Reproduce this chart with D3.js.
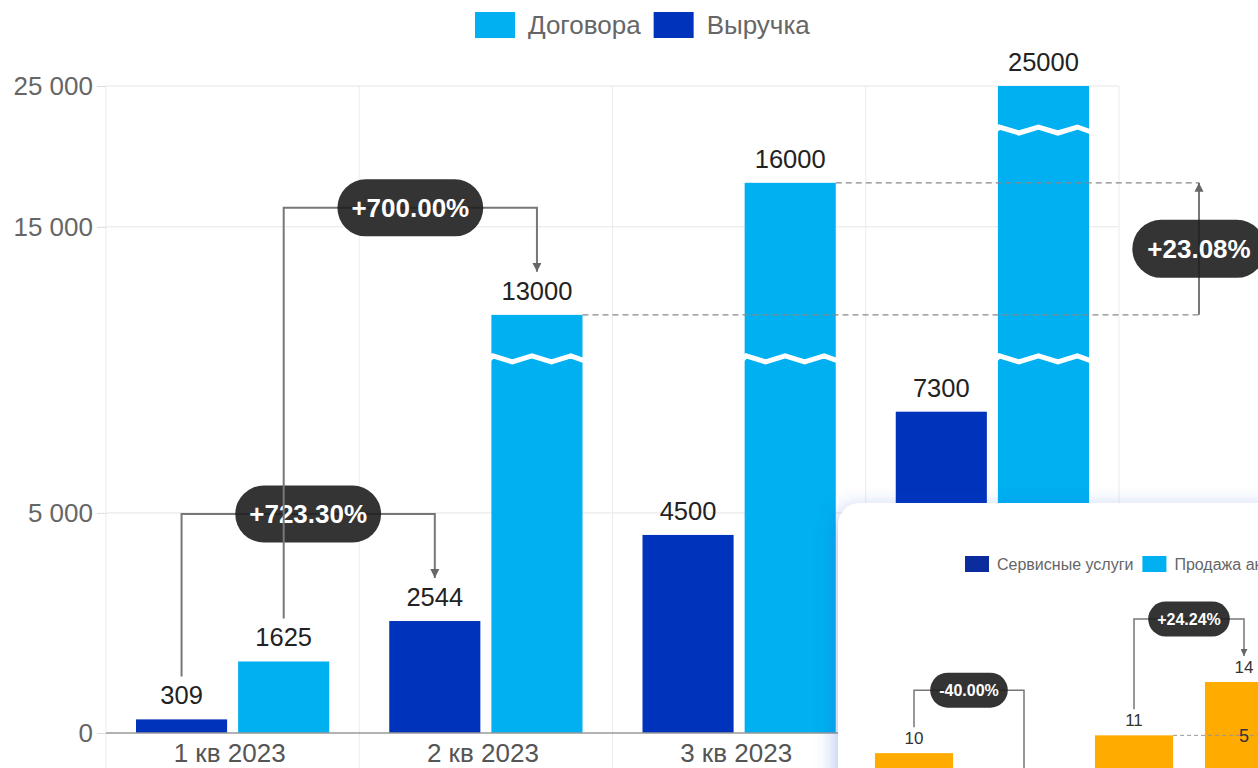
<!DOCTYPE html>
<html><head><meta charset="utf-8">
<script src="https://cdn.jsdelivr.net/npm/d3@7"></script>
<style>
html,body{margin:0;padding:0;background:#fff;overflow:hidden}
svg{display:block;font-family:"Liberation Sans",Arial,sans-serif}
</style>
</head><body>
<svg id="c" width="1258" height="768"></svg>
<script>
// ---------- main chart data ----------
const categories = ["1 кв 2023", "2 кв 2023", "3 кв 2023", "4 кв 2023"];
const seriesNames = ["Выручка", "Договора"];
const legendOrder = ["Договора", "Выручка"];
const revenue = [309, 2544, 4500, 7300];
const contracts = [1625, 13000, 16000, 25000];
const yTickValues = [0, 5000, 15000, 25000];
const axisBreaks = [[8500, 12000], [17200, 24000]];

// ---------- inset chart data ----------
const insetSeries = ["Сервисные услуги", "Продажа акций"];
const insetBars = ["b1", "b2", "b3", "b4"];
const insetValues = [10, 6, 11, 14];
const insetPercent = ["-40.00%", "+24.24%"];
const insetInnerLabel = ["5"];

const colors = {"Выручка": "#0033bb", "Договора": "#00b0f0"};
const insetColors = {"Сервисные услуги": "#0a2c9c", "Продажа акций": "#00b0f0"};

const svg = d3.select("#c");
const W = 1258, H = 768;
const L = 106, R = 1119, T = 86, B = 733;

const defs = svg.append("defs");
defs.append("marker").attr("id", "arr").attr("viewBox", "0 0 10 10")
  .attr("refX", 10).attr("refY", 5).attr("markerWidth", 9).attr("markerHeight", 10)
  .attr("markerUnits", "userSpaceOnUse").attr("orient", "auto")
  .append("path").attr("d", "M0,0L10,5L0,10Z").attr("fill", "#666");
defs.append("marker").attr("id", "arrS").attr("viewBox", "0 0 10 10")
  .attr("refX", 10).attr("refY", 5).attr("markerWidth", 7).attr("markerHeight", 7)
  .attr("markerUnits", "userSpaceOnUse").attr("orient", "auto")
  .append("path").attr("d", "M0,0L10,5L0,10Z").attr("fill", "#666");
const f = defs.append("filter").attr("id", "sh").attr("x", "-20%").attr("y", "-20%").attr("width", "140%").attr("height", "140%");
f.append("feDropShadow").attr("dx", -3).attr("dy", 5).attr("stdDeviation", 10)
  .attr("flood-color", "#2a5bd7").attr("flood-opacity", 0.35);

// ---------- broken y scale ----------
const domainPts = [0];
axisBreaks.forEach(([a, b]) => domainPts.push(a, b));
domainPts.push(yTickValues[yTickValues.length - 1]);
let units = 0;
for (let i = 0; i < domainPts.length; i += 2) units += domainPts[i + 1] - domainPts[i];
const k = (B - T) / units;
const rangePts = [B];
let cur = B;
for (let i = 1; i < domainPts.length; i++) {
  if (i % 2 === 1) cur -= (domainPts[i] - domainPts[i - 1]) * k;
  rangePts.push(cur);
}
const y = d3.scaleLinear().domain(domainPts).range(rangePts);

const x0 = d3.scaleBand().domain(categories).range([L, R]);
const x1 = d3.scaleBand().domain(seriesNames).range([30, x0.bandwidth() - 30]).paddingInner(0.108);

// ---------- grid ----------
const grid = svg.append("g");
grid.selectAll("line.h").data(yTickValues.filter(d => d > 0)).join("line")
  .attr("x1", L).attr("x2", R).attr("y1", d => y(d)).attr("y2", d => y(d))
  .attr("stroke", "#e6e6e6").attr("stroke-width", 1);
grid.selectAll("line.v").data(categories.map(c => x0(c)).concat([R])).join("line")
  .attr("x1", d => d).attr("x2", d => d).attr("y1", T).attr("y2", H)
  .attr("stroke", "#ebebeb").attr("stroke-width", 1);

// y axis
const yAxis = svg.append("g").attr("transform", `translate(${L},0)`)
  .call(d3.axisLeft(y).tickValues(yTickValues).tickSize(9).tickPadding(4)
    .tickFormat(d => d3.format(",")(d).replace(/,/g, " ")));
yAxis.select(".domain").remove();
yAxis.selectAll("line").attr("stroke", "#dcdcdc");
yAxis.selectAll("text").attr("font-size", 26).attr("fill", "#666")
  .attr("font-family", "'Liberation Sans',Arial,sans-serif");

// x labels
svg.append("g").selectAll("text").data(categories).join("text")
  .attr("x", d => x0(d) + x0.bandwidth() / 2 - 3).attr("y", 762)
  .attr("text-anchor", "middle").attr("font-size", 26).attr("fill", "#555").text(d => d);

// ---------- bars ----------
const bars = categories.flatMap((c, i) => [
  {c, i, s: "Выручка", v: revenue[i]},
  {c, i, s: "Договора", v: contracts[i]}
]);
const bx = d => x0(d.c) + x1(d.s);
svg.append("g").selectAll("rect").data(bars).join("rect")
  .attr("x", bx).attr("width", x1.bandwidth())
  .attr("y", d => y(d.v)).attr("height", d => y(0) - y(d.v))
  .attr("fill", d => colors[d.s]);

// break marks
const zig = (xl, w, yb) => {
  const pts = [];
  for (let j = -1; j <= 6; j++) {
    const xx = xl + 1.5 + 19.5 * j;
    pts.push([Math.max(xl - 5, Math.min(xl + w + 5, xx)), yb + (j % 2 === 0 ? -3 : 3)]);
  }
  return d3.line()(pts);
};
const breakMarks = [];
bars.forEach(d => axisBreaks.forEach(([a, b]) => { if (d.v > b) breakMarks.push({d, a}); }));
svg.append("g").selectAll("path").data(breakMarks).join("path")
  .attr("d", m => zig(bx(m.d), x1.bandwidth(), y(m.a)))
  .attr("fill", "none").attr("stroke", "#fff").attr("stroke-width", 5).attr("stroke-linejoin", "miter");

// axis baseline
svg.append("line").attr("x1", L).attr("x2", R).attr("y1", y(0)).attr("y2", y(0))
  .attr("stroke", "#999").attr("stroke-width", 1.5);

// value labels
svg.append("g").selectAll("text").data(bars).join("text")
  .attr("x", d => bx(d) + x1.bandwidth() / 2).attr("y", d => y(d.v) - 15)
  .attr("text-anchor", "middle").attr("font-size", 25.5).attr("fill", "#222").text(d => d.v);

// ---------- annotations ----------
const pct = (a, b) => (b >= a ? "+" : "") + ((b / a - 1) * 100).toFixed(2) + "%";
const cx = (i, s) => x0(categories[i]) + x1(s) + x1.bandwidth() / 2;
const ann = svg.append("g");
function pill(g, xc, yc, text, fs, h, pad) {
  const gg = g.append("g");
  const r = gg.append("rect").attr("fill", "rgba(30,30,30,0.9)");
  const t = gg.append("text").attr("x", xc).attr("y", yc).attr("dy", "0.36em")
    .attr("text-anchor", "middle").attr("font-size", fs).attr("font-weight", "bold")
    .attr("fill", "#fff").text(text);
  const w = t.node().getComputedTextLength() + 2 * pad;
  r.attr("x", xc - w / 2).attr("y", yc - h / 2).attr("width", w).attr("height", h).attr("rx", h / 2);
}
function bracket(i1, s1, v1, i2, s2, v2) {
  const xa = cx(i1, s1), xb = cx(i2, s2);
  const ta = y(v1) - 43, tb = y(v2) - 43;
  const lvl = Math.min(ta, tb) - 64;
  ann.append("path").attr("d", `M${xa},${ta}V${lvl}H${xb}V${tb}`)
    .attr("fill", "none").attr("stroke", "#777").attr("stroke-width", 2).attr("marker-end", "url(#arr)");
  pill(ann, (xa + xb) / 2, lvl, pct(v1, v2), 26, 57, 14);
}
bracket(0, "Выручка", revenue[0], 1, "Выручка", revenue[1]);
bracket(0, "Договора", contracts[0], 1, "Договора", contracts[1]);

// vertical comparison 2 кв -> 3 кв contracts
const ax = R + 80;
const ya = y(contracts[1]), yb2 = y(contracts[2]);
[[1, ya], [2, yb2]].forEach(([i, yy]) => {
  ann.append("line").attr("x1", x0(categories[i]) + x1("Договора") + x1.bandwidth()).attr("x2", ax)
    .attr("y1", yy).attr("y2", yy).attr("stroke", "#888").attr("stroke-width", 1.3).attr("stroke-dasharray", "6,4");
});
ann.append("line").attr("x1", ax).attr("x2", ax).attr("y1", ya).attr("y2", yb2)
  .attr("stroke", "#777").attr("stroke-width", 2).attr("marker-end", "url(#arr)");
pill(ann, ax, (ya + yb2) / 2, pct(contracts[1], contracts[2]), 26, 58, 15);

// ---------- legend ----------
const lg = svg.append("g");
let lx = 475;
legendOrder.forEach(s => {
  lg.append("rect").attr("x", lx).attr("y", 12).attr("width", 40).attr("height", 26).attr("fill", colors[s]);
  const t = lg.append("text").attr("x", lx + 53).attr("y", 25).attr("dy", "0.36em")
    .attr("font-size", 26).attr("fill", "#666").text(s);
  lx += 53 + t.node().getComputedTextLength() + 13;
});

// ---------- inset card ----------
const card = svg.append("g");
card.append("rect").attr("x", 838).attr("y", 503).attr("width", 520).attr("height", 400)
  .attr("rx", 22).attr("fill", "#fff").attr("filter", "url(#sh)");

let ilx = 965;
insetSeries.forEach(s => {
  card.append("rect").attr("x", ilx).attr("y", 556).attr("width", 24).attr("height", 16).attr("fill", insetColors[s]);
  const t = card.append("text").attr("x", ilx + 32).attr("y", 564).attr("dy", "0.36em")
    .attr("font-size", 16).attr("fill", "#666").text(s);
  ilx += 32 + t.node().getComputedTextLength() + 9;
});

const ix = d3.scaleBand().domain(insetBars).range([859, 1299]).paddingInner(0.29).paddingOuter(0.145);
const iy = d3.scaleLinear().domain([0, 14]).range([931, 682]);
card.append("g").selectAll("rect").data(insetValues).join("rect")
  .attr("x", (d, i) => ix(insetBars[i])).attr("width", ix.bandwidth())
  .attr("y", d => iy(d)).attr("height", d => iy(0) - iy(d)).attr("fill", "#ffab00");
card.append("g").selectAll("text").data(insetValues.map((v, i) => ({v, i})).filter(d => iy(d.v) - 9 < H))
  .join("text")
  .attr("x", d => ix(insetBars[d.i]) + ix.bandwidth() / 2).attr("y", d => iy(d.v) - 9)
  .attr("text-anchor", "middle").attr("font-size", 17).attr("fill", "#333").text(d => d.v);

// dotted reference line
const dl = iy(insetValues[2]);
card.append("line").attr("x1", ix(insetBars[2]) + ix.bandwidth()).attr("x2", W + 10)
  .attr("y1", dl).attr("y2", dl).attr("stroke", "#999").attr("stroke-width", 1).attr("stroke-dasharray", "4,3");
card.append("text").attr("x", ix(insetBars[3]) + ix.bandwidth() / 2).attr("y", dl).attr("dy", "0.36em")
  .attr("text-anchor", "middle").attr("font-size", 18).attr("fill", "#333").text(insetInnerLabel[0]);

function ibracket(a, b, label) {
  const xa = ix(insetBars[a]) + ix.bandwidth() / 2, xb = ix(insetBars[b]) + ix.bandwidth() / 2;
  const ta = iy(insetValues[a]) - 26, tb = iy(insetValues[b]) - 26;
  const lvl = Math.min(ta, tb) - 37;
  card.append("path").attr("d", `M${xa},${ta}V${lvl}H${xb}V${tb}`)
    .attr("fill", "none").attr("stroke", "#777").attr("stroke-width", 1.5).attr("marker-end", "url(#arrS)");
  pill(card, (xa + xb) / 2, lvl, label, 16, 35, 9);
}
ibracket(0, 1, insetPercent[0]);
ibracket(2, 3, insetPercent[1]);
</script>
</body></html>
